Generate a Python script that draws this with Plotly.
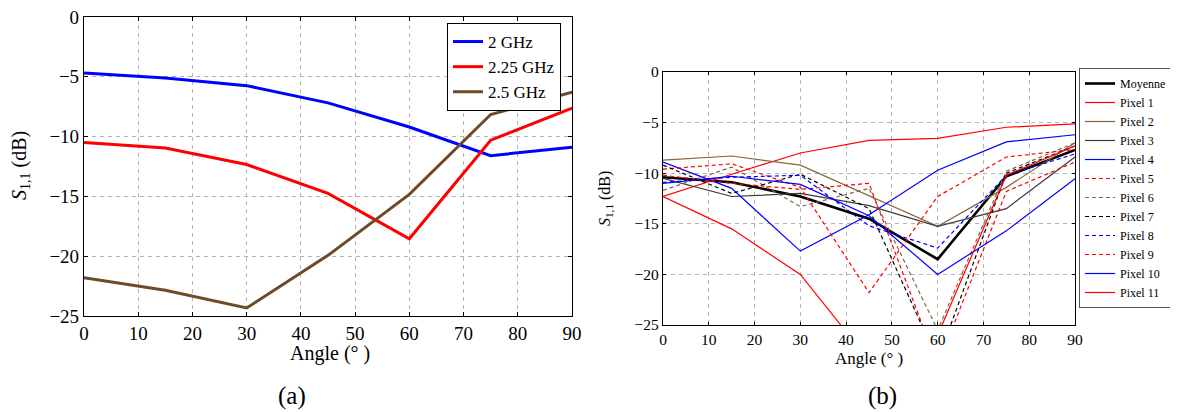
import plotly.graph_objects as go

# ---------------- data ----------------
angles = [0, 15, 30, 45, 60, 75, 90]

# (a) S11 vs angle for three frequencies
freq_labels = ["2 GHz", "2.25 GHz", "2.5 GHz"]
s11_2GHz = [-4.68, -5.10, -5.74, -7.18, -9.20, -11.59, -10.90]
s11_225GHz = [-10.50, -10.95, -12.33, -14.75, -18.54, -10.30, -7.62]
s11_25GHz = [-21.80, -22.84, -24.33, -19.93, -14.83, -8.15, -6.29]

# (b) S11 per pixel at 2.25 GHz
moyenne = [-10.4, -10.9, -12.3, -14.5, -18.5, -10.3, -7.7]
pixel_1 = [-12.3, -10.1, -8.0, -6.75, -6.55, -5.46, -5.13]
pixel_2 = [-8.7, -8.3, -9.2, -12.2, -15.25, -11.4, -7.0]
pixel_3 = [-10.5, -12.3, -12.0, -13.2, -15.25, -13.5, -8.4]
pixel_4 = [-8.9, -11.5, -17.7, -14.1, -9.7, -6.9, -6.2]
pixel_5 = [-9.6, -9.07, -11.4, -21.8, -12.3, -8.4, -7.65]
pixel_6 = [-11.7, -9.4, -13.3, -11.5, -25.5, -9.8, -7.0]
pixel_7 = [-9.2, -12.0, -10.1, -13.5, -28.5, -10.0, -7.3]
pixel_8 = [-10.9, -10.4, -10.2, -15.2, -17.4, -10.2, -8.1]
pixel_9 = [-10.2, -11.0, -11.6, -11.0, -29.0, -11.8, -8.9]
pixel_10 = [-11.0, -10.3, -11.1, -14.2, -20.0, -15.7, -10.55]
pixel_11 = [-12.3, -15.5, -20.0, -28.5, -26.0, -10.2, -7.3]

x_ticks = [0, 10, 20, 30, 40, 50, 60, 70, 80, 90]
y_ticks = [-25, -20, -15, -10, -5, 0]

# ---------------- styles ----------------
BLUE = "#0000ff"
RED = "#ff0000"
BROWN_A = "#6e4b28"
BROWN_B = "#86653f"
DARK = "#3a3a3a"
DASH = "4px,3px"
FONT = "Liberation Serif"

fig = go.Figure()

# (a)
for name, ys, col in zip(freq_labels, [s11_2GHz, s11_225GHz, s11_25GHz], [BLUE, RED, BROWN_A]):
    fig.add_trace(go.Scatter(x=angles, y=ys, mode="lines", name=name,
                             line=dict(color=col, width=3),
                             xaxis="x", yaxis="y", legend="legend"))

# (b)
series_b = [
    ("Moyenne", moyenne, "#000000", "solid", 2.6),
    ("Pixel 1", pixel_1, RED, "solid", 1.2),
    ("Pixel 2", pixel_2, BROWN_B, "solid", 1.2),
    ("Pixel 3", pixel_3, DARK, "solid", 1.2),
    ("Pixel 4", pixel_4, BLUE, "solid", 1.2),
    ("Pixel 5", pixel_5, RED, DASH, 1.2),
    ("Pixel 6", pixel_6, BROWN_B, DASH, 1.2),
    ("Pixel 7", pixel_7, "#000000", DASH, 1.2),
    ("Pixel 8", pixel_8, BLUE, DASH, 1.2),
    ("Pixel 9", pixel_9, RED, DASH, 1.2),
    ("Pixel 10", pixel_10, BLUE, "solid", 1.2),
    ("Pixel 11", pixel_11, RED, "solid", 1.2),
]
for name, ys, col, dash, w in series_b:
    fig.add_trace(go.Scatter(x=angles, y=ys, mode="lines", name=name,
                             line=dict(color=col, width=w, dash=dash),
                             xaxis="x2", yaxis="y2", legend="legend2"))

# the page body adds an 8 px offset, so the figure is 8 px smaller and
# screen positions are converted to figure positions
OFF = 8
W, H = 1178 - OFF, 412 - OFF


def px_x(p):
    return (p - OFF) / W


def px_y(p):
    return 1 - (p - OFF) / H


def axis(domain, anchor, rng, tickvals, size, ticklen):
    return dict(domain=domain, anchor=anchor, range=rng, tickvals=tickvals,
                showline=True, linecolor="black", linewidth=1.2, mirror="ticks",
                ticks="inside", ticklen=ticklen, tickcolor="black",
                showgrid=True, gridcolor="#b4b4b4", gridwidth=1, griddash="4px,4px",
                zeroline=False, ticklabeloverflow="allow",
                tickfont=dict(family=FONT, size=size, color="black"))


fig.update_layout(
    width=W, height=H,
    margin=dict(l=0, r=0, t=0, b=0, autoexpand=False),
    paper_bgcolor="white", plot_bgcolor="white",
    font=dict(family=FONT, color="black"),
    xaxis=axis([px_x(84), px_x(572)], "y", [0, 90], x_ticks, 19, 4),
    yaxis=axis([px_y(316), px_y(17)], "x", [-25, 0], y_ticks, 19, 4),
    xaxis2=axis([px_x(663), px_x(1075)], "y2", [0, 90], x_ticks, 15.5, 3),
    yaxis2=axis([px_y(325), px_y(72)], "x2", [-25, 0], y_ticks, 15.5, 3),
    legend=dict(x=px_x(447), y=px_y(23), xanchor="left", yanchor="top",
                bordercolor="black", borderwidth=1, bgcolor="white",
                font=dict(family=FONT, size=17), itemwidth=30,
                tracegroupgap=0),
    legend2=dict(x=px_x(1079), y=px_y(68), xanchor="left", yanchor="top",
                 bordercolor="#555555", borderwidth=1, bgcolor="white",
                 font=dict(family=FONT, size=12), itemwidth=30,
                 tracegroupgap=0),
    showlegend=True,
)

ann = [
    dict(text="<i>S</i><sub>1,1</sub> (dB)", x=px_x(20), y=px_y(166), textangle=-90, size=20),
    dict(text="Angle (° )", x=px_x(330), y=px_y(353), textangle=0, size=20),
    dict(text="(a)", x=px_x(292), y=px_y(396), textangle=0, size=25),
    dict(text="<i>S</i><sub>1,1</sub> (dB)", x=px_x(605), y=px_y(199), textangle=-90, size=16),
    dict(text="Angle (° )", x=px_x(869), y=px_y(358), textangle=0, size=17),
    dict(text="(b)", x=px_x(882), y=px_y(396), textangle=0, size=25),
]
fig.update_layout(annotations=[
    dict(text=a["text"], x=a["x"], y=a["y"], xref="paper", yref="paper",
         xanchor="center", yanchor="middle", showarrow=False, textangle=a["textangle"],
         font=dict(family=FONT, size=a["size"], color="black"))
    for a in ann
])

fig.write_html("out.html")
